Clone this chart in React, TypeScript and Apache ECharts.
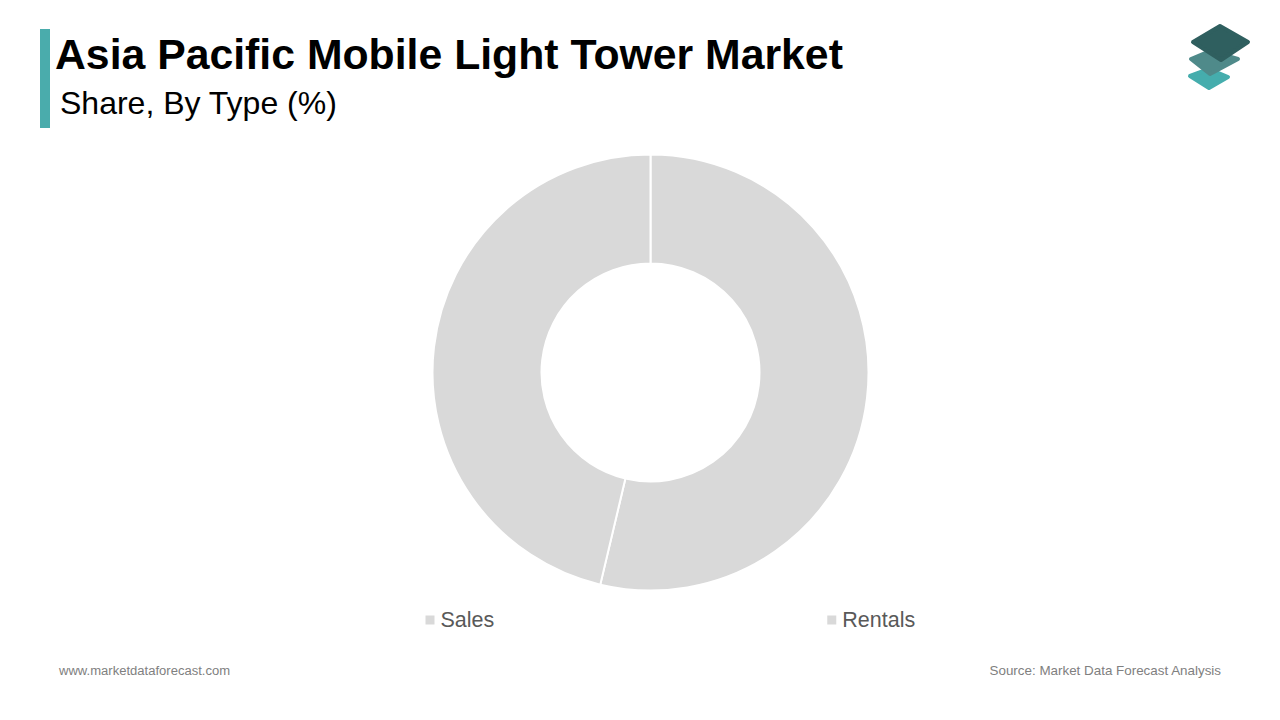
import * as echarts from "echarts"
import { useEffect, useRef } from "react"

const categories = ["Sales", "Rentals"]
const shares = [53.7, 46.3]

const TEAL = "#4aacac"

const diamond = (points: number[][], color: string) => ({
  type: "polygon",
  shape: { points },
  style: { fill: color, stroke: color, lineWidth: 4, lineJoin: "round" },
})

export default function App() {
  const chartRef = useRef<HTMLDivElement>(null)

  useEffect(() => {
    if (!chartRef.current) return
    const chart = echarts.init(chartRef.current, undefined, { renderer: "svg" })

    chart.setOption({
      animation: false,
      backgroundColor: "#ffffff",
      legend: {
        data: categories,
        left: 418.5,
        top: 604,
        icon: "rect",
        itemWidth: 11,
        itemHeight: 11,
        itemGap: 331,
        selectedMode: false,
        textStyle: {
          fontFamily: "Liberation Sans",
          fontSize: 21.5,
          color: "#595959",
        },
      },
      series: [
        {
          type: "pie",
          center: [650.5, 372.5],
          radius: [109, 218],
          startAngle: 90,
          clockwise: true,
          label: { show: false },
          labelLine: { show: false },
          silent: true,
          itemStyle: { color: "#d9d9d9", borderColor: "#ffffff", borderWidth: 2 },
          data: categories.map((name, i) => ({ name, value: shares[i] })),
        },
      ],
      graphic: [
        { type: "rect", shape: { x: 40, y: 29, width: 10, height: 99 }, style: { fill: TEAL } },
        {
          type: "text",
          x: 55,
          y: 32,
          style: {
            text: "Asia Pacific Mobile Light Tower Market",
            font: "bold 42.75px 'Liberation Sans'",
            fill: "#000000",
          },
        },
        {
          type: "text",
          x: 60,
          y: 87,
          style: {
            text: "Share, By Type (%)",
            font: "32px 'Liberation Sans'",
            fill: "#000000",
          },
        },
        {
          type: "text",
          x: 59,
          y: 664,
          style: {
            text: "www.marketdataforecast.com",
            font: "13.05px 'Liberation Sans'",
            fill: "#808080",
          },
        },
        {
          type: "text",
          x: 1221,
          y: 664,
          style: {
            text: "Source: Market Data Forecast Analysis",
            font: "13.4px 'Liberation Sans'",
            fill: "#808080",
            align: "right",
          },
        },
        diamond([[1209, 69], [1228, 77], [1209, 88], [1190, 76]], "#45adad"),
        diamond([[1210, 51], [1238, 59], [1210, 74], [1191, 59]], "#4f8a8a"),
        diamond([[1220, 26], [1248, 42], [1221, 60], [1193, 42]], "#2f5f5f"),
      ],
    })

    return () => {
      chart.dispose()
    }
  }, [])

  return (
    <div
      ref={chartRef}
      style={{ position: "absolute", left: 0, top: 0, width: 1280, height: 720 }}
    />
  )
}
